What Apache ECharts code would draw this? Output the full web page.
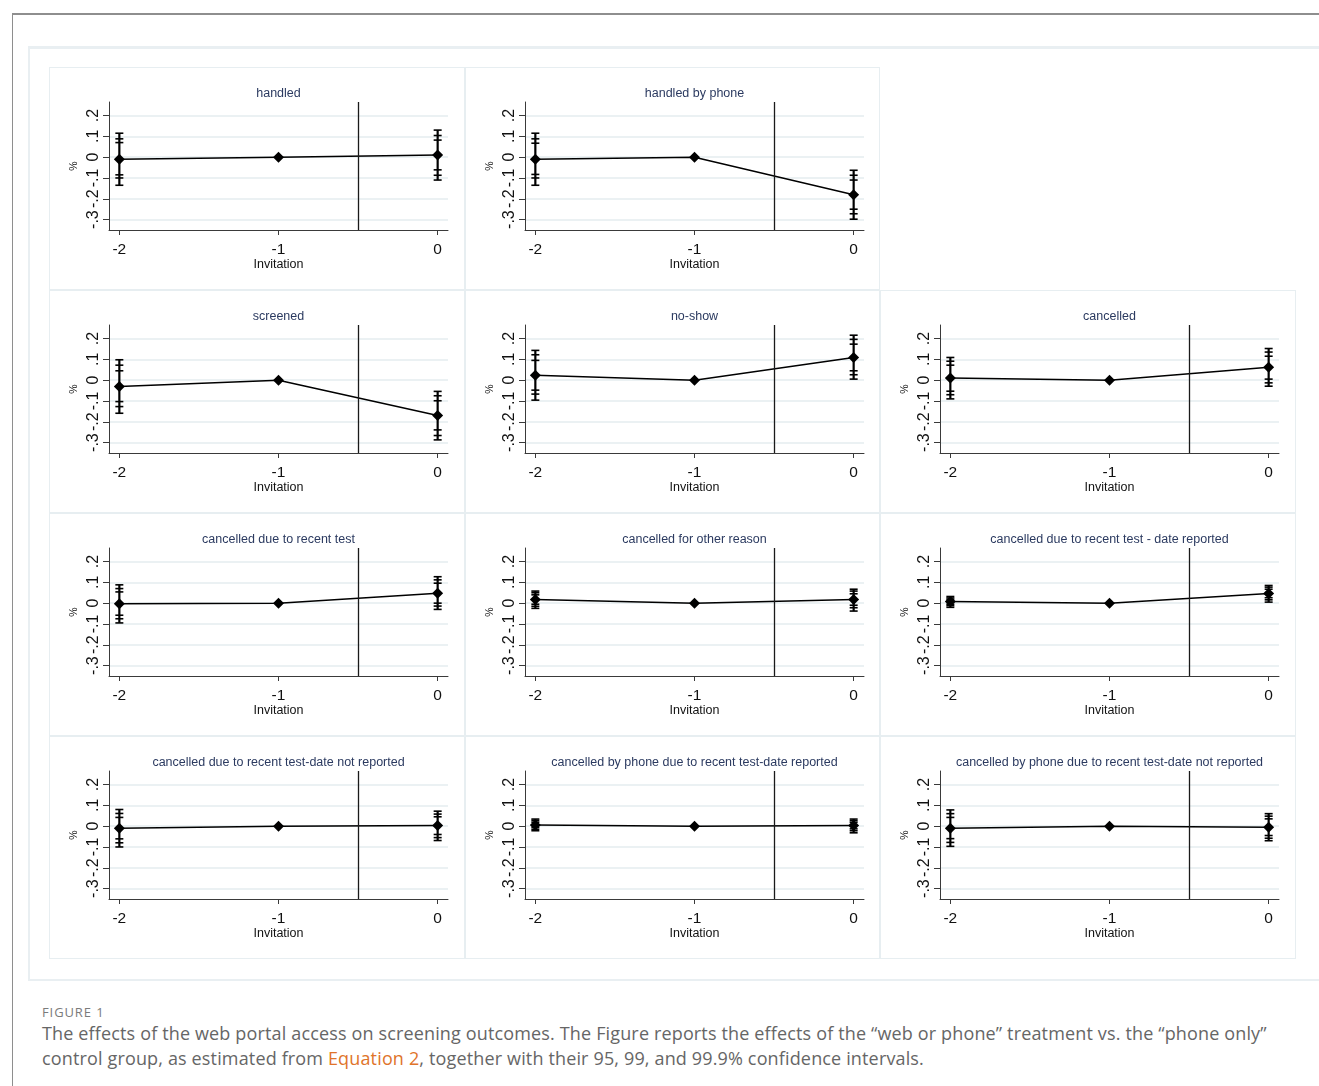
<!DOCTYPE html>
<html>
<head>
<meta charset="utf-8">
<title>Figure 1</title>
<script src="https://cdn.jsdelivr.net/npm/echarts@6/dist/echarts.min.js"></script>
<style>
  html, body { margin: 0; padding: 0; background: #fff; }
  body {
    width: 1319px;
    height: 1086px;
    position: relative;
    overflow: hidden;
    font-family: 'Liberation Sans', Arial, sans-serif;
  }
  .page-frame {
    position: absolute;
    left: 12px;
    top: 13px;
    width: 1400px;
    height: 1200px;
    border-top: 2px solid #8e8e8e;
    border-left: 1px solid #8e8e8e;
  }
  .figure-box {
    position: absolute;
    left: 28px;
    top: 46px;
    width: 1300px;
    height: 930px;
    border: 2px solid #e9eff2;
    border-top-width: 3px;
  }
  .panels {
    position: absolute;
    left: 49px;
    top: 67px;
    display: grid;
    grid-template-columns: repeat(3, 415.5px);
    grid-template-rows: repeat(4, 223px);
  }
  .cell {
    position: relative;
    border: 1px solid #e7eef1;
    box-sizing: border-box;
  }
  .cell.empty { border: none; }
  .cell .chart {
    position: absolute;
    left: -1px;
    top: -1px;
    width: 415px;
    height: 223px;
  }
  .caption-label {
    position: absolute;
    left: 42px;
    top: 1003px;
    font: 500 13px 'Open Sans', sans-serif;
    color: #7b7b7b;
    letter-spacing: 0.9px;
  }
  .caption-text {
    position: absolute;
    left: 42px;
    top: 1021px;
    width: 1270px;
    white-space: nowrap;
    font: 18px/25px 'Open Sans', sans-serif;
    letter-spacing: 0.15px;
    color: #666;
  }
  .caption-text a { color: #e0742a; text-decoration: none; }
</style>
</head>
<body>
<div class="page-frame"></div>
<div class="figure-box"></div>
<div class="panels" id="panels"></div>
<div class="caption-label">FIGURE 1</div>
<div class="caption-text">The effects of the web portal access on screening outcomes. The Figure reports the effects of the “web or phone” treatment vs. the “phone only”<br>control group, as estimated from <a>Equation 2</a>, together with their 95, 99, and 99.9% confidence intervals.</div>

<script>
const panelTitles = [
  'handled',
  'handled by phone',
  'screened',
  'no-show',
  'cancelled',
  'cancelled due to recent test',
  'cancelled for other reason',
  'cancelled due to recent test - date reported',
  'cancelled due to recent test-date not reported',
  'cancelled by phone due to recent test-date reported',
  'cancelled by phone due to recent test-date not reported'
]
const periods = [-2, -1, 0]
const periodLabels = ['-2', '-1', '0']
const yTickValues = [-0.3, -0.2, -0.1, 0, 0.1, 0.2]
const yTickLabels = ['-.3', '-.2', '-.1', '0', '.1', '.2']
const cutoffPeriod = -0.5

// point estimates per panel, period -1 is the reference
const estimates = [
  [-0.010, 0, 0.010],
  [-0.010, 0, -0.181],
  [-0.030, 0, -0.170],
  [0.024, 0, 0.109],
  [0.010, 0, 0.062],
  [-0.003, 0, 0.048],
  [0.018, 0, 0.018],
  [0.008, 0, 0.046],
  [-0.010, 0, 0.003],
  [0.006, 0, 0.003],
  [-0.010, 0, -0.005]
]

// confidence bounds (95 / 99 / 99.9 %)
const ci95Low = [
  [-0.085, null, -0.061], [-0.083, null, -0.250], [-0.103, null, -0.239], [-0.048, null, 0.045],
  [-0.053, null, 0.005], [-0.058, null, 0.000], [-0.005, null, -0.010], [-0.005, null, 0.026],
  [-0.061, null, -0.040], [-0.006, null, -0.013], [-0.060, null, -0.045]
]
const ci95High = [
  [0.070, null, 0.082], [0.067, null, -0.110], [0.045, null, -0.099], [0.095, null, 0.173],
  [0.072, null, 0.115], [0.054, null, 0.096], [0.040, null, 0.045], [0.018, null, 0.067],
  [0.042, null, 0.045], [0.019, null, 0.018], [0.042, null, 0.035]
]
const ci99Low = [
  [-0.100, null, -0.087], [-0.100, null, -0.272], [-0.127, null, -0.266], [-0.067, null, 0.026],
  [-0.070, null, -0.013], [-0.075, null, -0.014], [-0.015, null, -0.022], [-0.012, null, 0.016],
  [-0.080, null, -0.055], [-0.015, null, -0.022], [-0.078, null, -0.058]
]
const ci99High = [
  [0.088, null, 0.104], [0.088, null, -0.087], [0.072, null, -0.075], [0.122, null, 0.196],
  [0.091, null, 0.135], [0.070, null, 0.112], [0.050, null, 0.058], [0.025, null, 0.077],
  [0.061, null, 0.058], [0.027, null, 0.026], [0.060, null, 0.048]
]
const ci999Low = [
  [-0.135, null, -0.110], [-0.135, null, -0.298], [-0.159, null, -0.287], [-0.096, null, 0.005],
  [-0.090, null, -0.029], [-0.095, null, -0.030], [-0.025, null, -0.038], [-0.020, null, 0.005],
  [-0.100, null, -0.069], [-0.022, null, -0.032], [-0.097, null, -0.070]
]
const ci999High = [
  [0.115, null, 0.130], [0.115, null, -0.063], [0.098, null, -0.054], [0.143, null, 0.216],
  [0.109, null, 0.152], [0.088, null, 0.127], [0.058, null, 0.067], [0.032, null, 0.085],
  [0.080, null, 0.072], [0.034, null, 0.034], [0.078, null, 0.060]
]

// panel slots in the 3 x 4 layout (slot 2 is left empty)
const panelSlots = [0, 1, 3, 4, 5, 6, 7, 8, 9, 10, 11]

const AXIS_COLOR = '#3a3a3a'
const GRID_COLOR = '#e4ecef'
const TITLE_COLOR = '#2b3a60'

function yLabel (v) {
  const idx = yTickValues.findIndex(t => Math.abs(t - v) < 1e-9)
  return idx >= 0 ? yTickLabels[idx] : ''
}

function xLabel (v) {
  const idx = periods.findIndex(t => Math.abs(t - v) < 1e-9)
  return idx >= 0 ? periodLabels[idx] : ''
}

/**
 * error bars: one stem plus three caps on each side
 */
function renderErrorBar (params, api) {
  const x = api.value(0)
  const capHalf = 4
  const top = api.coord([x, api.value(6)])
  const bottom = api.coord([x, api.value(5)])
  const children = [{
    type: 'line',
    shape: { x1: top[0], y1: top[1], x2: bottom[0], y2: bottom[1] },
    style: { stroke: '#000', lineWidth: 2.2 }
  }]
  for (let k = 1; k <= 6; k++) {
    const p = api.coord([x, api.value(k)])
    children.push({
      type: 'line',
      shape: { x1: p[0] - capHalf, y1: p[1], x2: p[0] + capHalf, y2: p[1] },
      style: { stroke: '#000', lineWidth: 1.6 }
    })
  }
  return { type: 'group', children }
}

function buildOption (i) {
  const linePoints = periods.map((p, j) => [p, estimates[i][j]])
  const barData = []
  periods.forEach((p, j) => {
    if (ci95Low[i][j] === null) return
    barData.push([p, ci95Low[i][j], ci95High[i][j], ci99Low[i][j], ci99High[i][j], ci999Low[i][j], ci999High[i][j]])
  })
  return {
    animation: false,
    title: {
      text: panelTitles[i],
      left: 229.5,
      top: 20,
      padding: 0,
      textAlign: 'center',
      textStyle: {
        fontFamily: 'Liberation Sans',
        fontSize: 12.5,
        fontWeight: 'normal',
        color: TITLE_COLOR
      }
    },
    grid: { left: 60, top: 35, width: 339, height: 128, outerBoundsMode: 'none' },
    xAxis: {
      type: 'value',
      min: -2.065,
      max: 0.065,
      name: 'Invitation',
      nameLocation: 'middle',
      nameGap: 28,
      nameMoveOverlap: false,
      nameTextStyle: { fontFamily: 'Liberation Sans', fontSize: 12.5, color: '#111' },
      axisLine: { show: true, onZero: false, lineStyle: { color: AXIS_COLOR, width: 1 } },
      axisTick: { show: true, length: 5, customValues: periods, lineStyle: { color: AXIS_COLOR } },
      axisLabel: {
        customValues: periods,
        formatter: xLabel,
        margin: 12,
        fontFamily: 'Liberation Sans',
        fontSize: 15.5,
        color: '#111'
      },
      splitLine: { show: false }
    },
    yAxis: {
      type: 'value',
      min: -0.35,
      max: 0.265,
      name: '%',
      nameLocation: 'middle',
      nameRotate: 90,
      nameGap: 29,
      nameMoveOverlap: false,
      nameTextStyle: { fontFamily: 'Liberation Sans', fontSize: 10.5, color: '#111' },
      axisLine: { show: true, onZero: false, lineStyle: { color: AXIS_COLOR, width: 1 } },
      axisTick: { show: true, length: 6, customValues: yTickValues, lineStyle: { color: AXIS_COLOR } },
      axisLabel: {
        customValues: yTickValues,
        formatter: yLabel,
        rotate: 90,
        margin: 7,
        fontFamily: 'Liberation Sans',
        fontSize: 16,
        color: '#111'
      },
      splitLine: { show: true, lineStyle: { color: GRID_COLOR, width: 1.5 } }
    },
    series: [
      {
        type: 'custom',
        renderItem: renderErrorBar,
        data: barData,
        z: 3
      },
      {
        type: 'line',
        data: linePoints,
        symbol: 'diamond',
        symbolSize: 11,
        lineStyle: { color: '#000', width: 1.5 },
        itemStyle: { color: '#000' },
        z: 4,
        markLine: {
          silent: true,
          symbol: 'none',
          label: { show: false },
          lineStyle: { color: '#1a1a1a', width: 1.3, type: 'solid' },
          data: [{ xAxis: cutoffPeriod }]
        }
      }
    ]
  }
}

const wrap = document.getElementById('panels')
const cells = []
for (let s = 0; s < 12; s++) {
  const cell = document.createElement('div')
  cell.className = 'cell'
  wrap.appendChild(cell)
  cells.push(cell)
}
cells[2].className = 'cell empty'

panelTitles.forEach((t, i) => {
  const dom = document.createElement('div')
  dom.className = 'chart'
  cells[panelSlots[i]].appendChild(dom)
  const chart = echarts.init(dom, null, { renderer: 'canvas' })
  chart.setOption(buildOption(i))
})
</script>
</body>
</html>
